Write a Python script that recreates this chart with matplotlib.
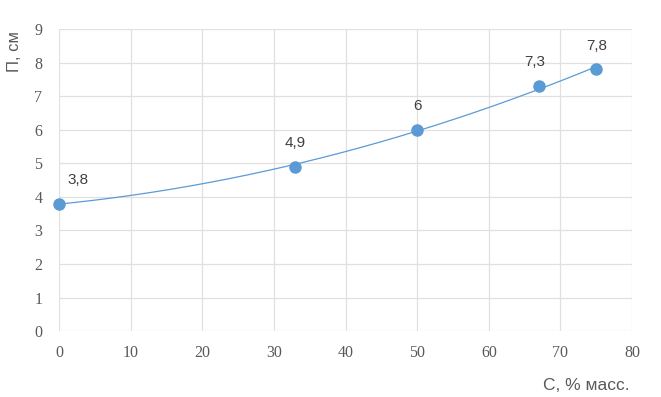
import numpy as np
import matplotlib
matplotlib.use("Agg")
import matplotlib.pyplot as plt

conc = [0, 33, 50, 67, 75]
height = [3.8, 4.9, 6.0, 7.3, 7.8]
point_labels = ["3,8", "4,9", "6", "7,3", "7,8"]
x_ticks = list(range(0, 81, 10))
y_ticks = list(range(0, 10))

blue = "#5b9bd5"
grid_c = "#e0e0e0"
tick_c = "#595959"

fig = plt.figure(figsize=(6.61, 3.97), dpi=100, facecolor="white")
ax = fig.add_axes([0.0893, 0.166, 0.867, 0.761])

# polynomial trendline (2nd order) through the measured points
coef = np.polyfit(conc, height, 2)
xs = np.linspace(0, 75, 200)
ax.plot(xs, np.polyval(coef, xs), color=blue, lw=0.9, zorder=2)
ax.plot(conc, height, "o", color=blue, ms=8, zorder=3, clip_on=False)

for x, y, t in zip(conc, height, point_labels):
    dx = 14 if x == 0 else -3 if x == 67 else 0
    ax.annotate(t, (x, y), xytext=(dx, 12), textcoords="offset points",
                ha="center", va="bottom", fontsize=11, color="#404040",
                family="Liberation Sans")

ax.set_xlim(0, 80)
ax.set_ylim(0, 9)
ax.set_xticks(x_ticks)
ax.set_yticks(y_ticks)
ax.grid(True, color=grid_c, lw=0.9)
ax.set_axisbelow(True)
for s in ax.spines.values():
    s.set_visible(False)
ax.tick_params(length=0, colors=tick_c, labelsize=11.5)
ax.tick_params(axis="y", pad=12)
ax.tick_params(axis="x", pad=10)
for lab in ax.get_xticklabels() + ax.get_yticklabels():
    lab.set_family("Liberation Serif")

fig.text(0.022, 0.87, "П, см", rotation=90, ha="center", va="center",
         fontsize=12, color=tick_c, family="Liberation Sans")
fig.text(0.953, 0.03, "С, % масс.", ha="right", va="center",
         fontsize=12.5, color=tick_c, family="Liberation Sans")

fig.savefig("out.png", dpi=100)
